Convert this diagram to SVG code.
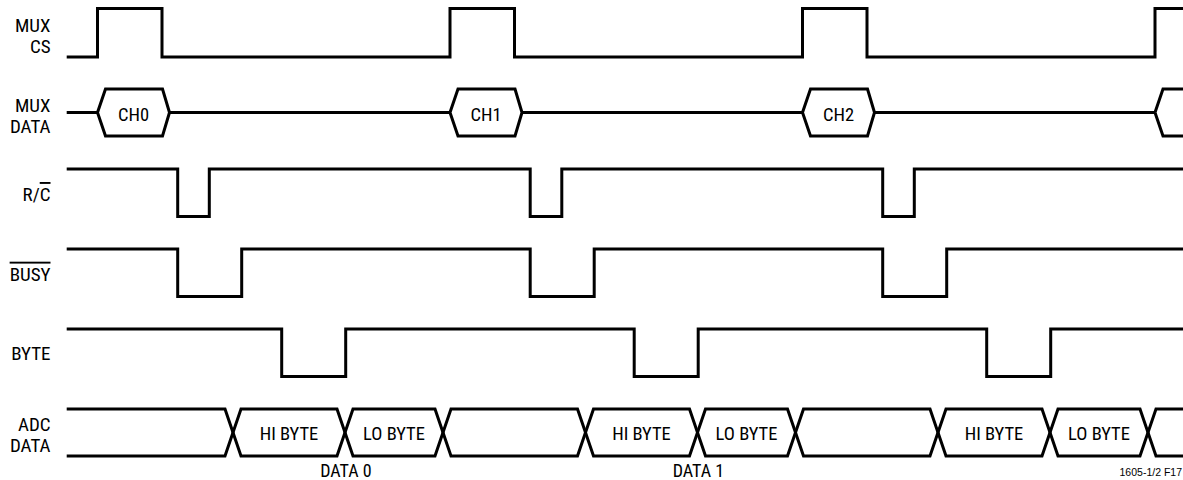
<svg xmlns="http://www.w3.org/2000/svg" width="1183" height="480" viewBox="0 0 1183 480">
<style>
  .w { fill: none; stroke: #000; stroke-width: 3; stroke-linejoin: miter; stroke-linecap: butt; }
  .t { font-family: "Liberation Sans Narrow", "Roboto Condensed", "Arial Narrow", "Liberation Sans", sans-serif; font-size: 19px; fill: #000; }
  .lbl { text-anchor: end; }
  .c { text-anchor: middle; font-size: 18.5px; }
  .ov { text-decoration: overline; }
  .fn { font-family: "Liberation Sans", Arial, sans-serif; font-size: 10.5px; fill: #000; text-anchor: end; }
</style>
<rect width="1183" height="480" fill="#fff"/>

<g id="mux-cs">
  <text class="t lbl" x="50.5" y="32.3">MUX</text>
  <text class="t lbl" x="50.5" y="53">CS</text>
  <path class="w" d="M66.7,57 H97.5 V8.5 H162 V57 H450 V8.5 H514.5 V57 H802.5 V8.5 H867 V57 H1155 V8.5 H1185"/>
</g>

<g id="mux-data">
  <text class="t lbl" x="50.5" y="111.6">MUX</text>
  <text class="t lbl" x="50.5" y="132.6">DATA</text>
  <path class="w" d="M66.7,112.5 H97.5 M169.5,112.5 H450 M522,112.5 H802.5 M874.5,112.5 H1155"/>
  <path class="w" d="M97.5,112.5 L105.5,89 H162.5 L169.5,112.5 L162.5,136 H105.5 Z"/>
  <path class="w" d="M450,112.5 L458,89 H515 L522,112.5 L515,136 H458 Z"/>
  <path class="w" d="M802.5,112.5 L810.5,89 H867.5 L874.5,112.5 L867.5,136 H810.5 Z"/>
  <path class="w" d="M1155,112.5 L1163,89 H1186 M1155,112.5 L1163,136 H1186"/>
  <text class="t c" x="133.5" y="120.7">CH0</text>
  <text class="t c" x="486" y="120.7">CH1</text>
  <text class="t c" x="838.5" y="120.7">CH2</text>
</g>

<g id="r-c">
  <text class="t lbl" x="50.5" y="201">R/<tspan class="ov">C</tspan></text>
  <path class="w" d="M66.7,169 H177.7 V216.5 H209.3 V169 H530.2 V216.5 H561.8 V169 H882.7 V216.5 H914.3 V169 H1185"/>
</g>

<g id="busy">
  <text class="t lbl ov" x="50.5" y="280.7">BUSY</text>
  <path class="w" d="M66.7,249 H177.7 V296.5 H241.7 V249 H530.2 V296.5 H594.2 V249 H882.7 V296.5 H946.7 V249 H1185"/>
</g>

<g id="byte">
  <text class="t lbl" x="50.5" y="360">BYTE</text>
  <path class="w" d="M66.7,329 H281.7 V376.5 H345.7 V329 H634.2 V376.5 H698.2 V329 H986.7 V376.5 H1050.7 V329 H1185"/>
</g>

<g id="adc-data">
  <text class="t lbl" x="50.5" y="430.9">ADC</text>
  <text class="t lbl" x="50.5" y="451.9">DATA</text>
  <path class="w" d="M66.7,409 H225 L241,456 H337 L353,409 H435 L451,456 H577.5 L593.5,409 H689.5 L705.5,456 H787.5 L803.5,409 H930 L946,456 H1042 L1058,409 H1140 L1156,456 H1185"/>
  <path class="w" d="M66.7,456 H225 L241,409 H337 L353,456 H435 L451,409 H577.5 L593.5,456 H689.5 L705.5,409 H787.5 L803.5,456 H930 L946,409 H1042 L1058,456 H1140 L1156,409 H1185"/>
  <text class="t c" x="289" y="439.5">HI BYTE</text>
  <text class="t c" x="394" y="439.5">LO BYTE</text>
  <text class="t c" x="641.5" y="439.5">HI BYTE</text>
  <text class="t c" x="746.5" y="439.5">LO BYTE</text>
  <text class="t c" x="994" y="439.5">HI BYTE</text>
  <text class="t c" x="1099" y="439.5">LO BYTE</text>
  <text class="t c" x="346" y="476.5" style="font-size:18px">DATA 0</text>
  <text class="t c" x="698.5" y="476.5" style="font-size:18px">DATA 1</text>
</g>

<g id="connectors"></g>

<text class="fn" x="1182" y="475.7">1605-1/2 F17</text>
</svg>
